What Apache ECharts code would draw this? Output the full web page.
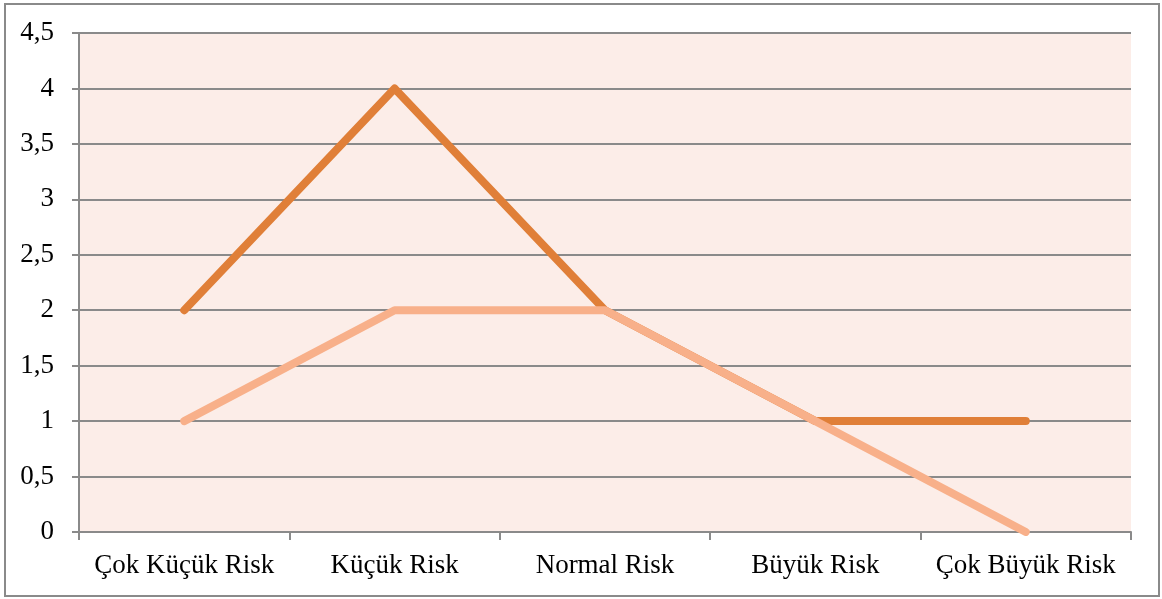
<!DOCTYPE html>
<html>
<head>
<meta charset="utf-8">
<script src="https://cdn.jsdelivr.net/npm/echarts@6/dist/echarts.min.js"></script>
<style>
  html, body { margin: 0; padding: 0; background: #fff; }
  #chart { width: 1162px; height: 599px; }
</style>
</head>
<body>
<div id="chart"></div>
<script>
// Risk categories along the x axis
const categories = ['Çok Küçük Risk', 'Küçük Risk', 'Normal Risk', 'Büyük Risk', 'Çok Büyük Risk'];
// Two series of counts per risk level
const seriesDark = [2, 4, 2, 1, 1];
const seriesLight = [1, 2, 2, 1, 0];
// Value axis range
const yMin = 0;
const yMax = 4.5;
const yStep = 0.5;

const chart = echarts.init(document.getElementById('chart'), null, { renderer: 'canvas' });
const fontFamily = '"Liberation Serif", "Times New Roman", serif';
const gray = '#8a8a8a';

chart.setOption({
  animation: false,
  backgroundColor: '#ffffff',
  graphic: [{
    type: 'rect',
    shape: { x: 5, y: 4, width: 1154, height: 592 },
    style: { fill: 'none', stroke: gray, lineWidth: 2 },
    z: -1
  }],
  grid: {
    left: 79, right: 31, top: 33, bottom: 67,
    show: true, backgroundColor: '#fcede8', borderWidth: 0
  },
  xAxis: {
    type: 'category',
    data: categories,
    boundaryGap: true,
    axisLine: { lineStyle: { color: gray, width: 2 } },
    axisTick: { show: true, interval: 0, length: 8, lineStyle: { color: gray, width: 2 } },
    axisLabel: {
      color: '#000', fontFamily, fontSize: 27, margin: 20,
      interval: 0, hideOverlap: false
    },
    splitLine: { show: false }
  },
  yAxis: {
    type: 'value',
    min: yMin, max: yMax, interval: yStep,
    axisLine: { show: true, lineStyle: { color: gray, width: 2 } },
    axisTick: { show: true, length: 7, lineStyle: { color: gray, width: 2 } },
    axisLabel: {
      color: '#000', fontFamily, fontSize: 27, margin: 25,
      formatter: v => String(v).replace('.', ',')
    },
    splitLine: { show: true, lineStyle: { color: gray, width: 2 } }
  },
  series: [
    {
      type: 'line', data: seriesDark, symbol: 'none',
      lineStyle: { color: '#e07f38', width: 8, cap: 'round', join: 'round' },
      z: 3
    },
    {
      type: 'line', data: seriesLight, symbol: 'none',
      lineStyle: { color: '#f8b08a', width: 8, cap: 'round', join: 'round' },
      z: 4
    }
  ]
});
</script>
</body>
</html>
